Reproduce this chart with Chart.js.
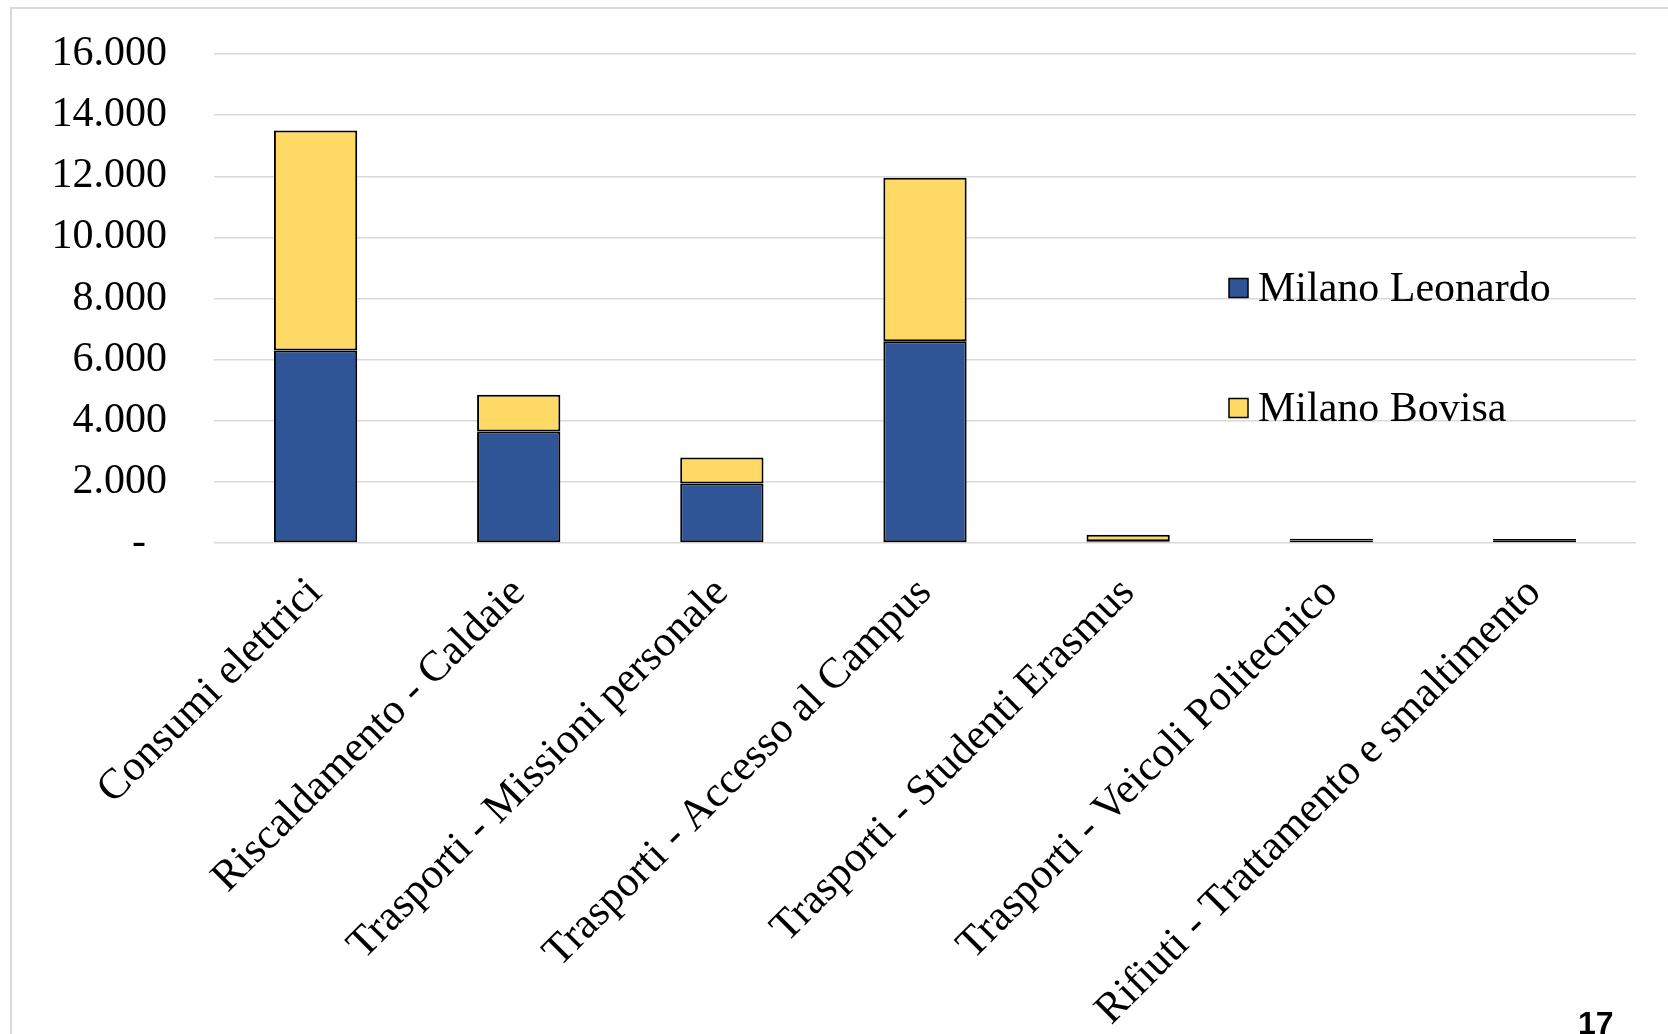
<!DOCTYPE html>
<html>
<head>
<meta charset="utf-8">
<script src="https://cdn.jsdelivr.net/npm/chart.js@4.4.1/dist/chart.umd.min.js"></script>
<style>
  html, body { margin: 0; padding: 0; background: #ffffff; }
  #wrap { width: 1668px; height: 1034px; position: relative; }
</style>
</head>
<body>
<div id="wrap"><canvas id="c" width="1668" height="1034"></canvas></div>
<script>
// Emissions by source, split between the two Milan campuses
const categories = [
  'Consumi elettrici',
  'Riscaldamento - Caldaie',
  'Trasporti - Missioni personale',
  'Trasporti - Accesso al Campus',
  'Trasporti - Studenti Erasmus',
  'Trasporti - Veicoli Politecnico',
  'Rifiuti - Trattamento e smaltimento'
];
const seriesNames = ['Milano Leonardo', 'Milano Bovisa'];
const leonardo = [6300, 3650, 1950, 6600, 60, 80, 70];
const bovisa   = [7200, 1200, 850, 5350, 210, 60, 60];
const yTicks   = [0, 2000, 4000, 6000, 8000, 10000, 12000, 14000, 16000];

const BLUE = '#2F5597';
const YELLOW = '#FFD966';
const SERIF = '"Liberation Serif", "Times New Roman", serif';

function fmtThousands(v) {
  if (v === 0) return '-  ';
  return String(v).replace(/\B(?=(\d{3})+(?!\d))/g, '.');
}

// Frame around the slide area and page number
const framePlugin = {
  id: 'frame',
  beforeDraw(chart) {
    const ctx = chart.ctx;
    ctx.save();
    ctx.fillStyle = '#ffffff';
    ctx.fillRect(0, 0, chart.width, chart.height);
    ctx.strokeStyle = '#d9d9d9';
    ctx.lineWidth = 2;
    ctx.beginPath();
    ctx.moveTo(11, chart.height);
    ctx.lineTo(11, 8);
    ctx.lineTo(chart.width, 8);
    ctx.stroke();
    ctx.restore();
  },
  afterDraw(chart) {
    const ctx = chart.ctx;
    ctx.save();
    ctx.fillStyle = '#000000';
    ctx.font = 'bold 32px "Liberation Sans", Arial, sans-serif';
    ctx.textAlign = 'left';
    ctx.textBaseline = 'alphabetic';
    ctx.fillText('17', 1578, 1034);
    ctx.restore();
  }
};

// Vertical legend placed inside the plot, right side
const sideLegend = {
  id: 'sideLegend',
  afterDraw(chart) {
    const ctx = chart.ctx;
    const items = [
      { ds: chart.data.datasets[0], cy: 288 },
      { ds: chart.data.datasets[1], cy: 408 }
    ];
    ctx.save();
    ctx.font = '42px ' + SERIF;
    ctx.textBaseline = 'middle';
    ctx.textAlign = 'left';
    items.forEach(it => {
      const box = 19;
      ctx.fillStyle = it.ds.backgroundColor;
      ctx.fillRect(1229, it.cy - box / 2, box, box);
      ctx.strokeStyle = '#000000';
      ctx.lineWidth = 1.5;
      ctx.strokeRect(1229, it.cy - box / 2, box, box);
      ctx.fillStyle = '#000000';
      ctx.fillText(it.ds.label, 1258, it.cy + 2);
    });
    ctx.restore();
  }
};

new Chart(document.getElementById('c'), {
  type: 'bar',
  data: {
    labels: categories,
    datasets: [
      {
        label: seriesNames[0],
        data: leonardo,
        backgroundColor: BLUE,
        borderColor: '#000000',
        borderWidth: 2,
        borderSkipped: false
      },
      {
        label: seriesNames[1],
        data: bovisa,
        backgroundColor: YELLOW,
        borderColor: '#000000',
        borderWidth: 2,
        borderSkipped: false
      }
    ]
  },
  options: {
    responsive: false,
    animation: false,
    devicePixelRatio: 1,
    layout: { padding: { top: 54, right: 32, left: 0, bottom: 0 } },
    plugins: {
      legend: { display: false },
      tooltip: { enabled: false }
    },
    datasets: {
      bar: { barPercentage: 0.41, categoryPercentage: 1.0 }
    },
    scales: {
      x: {
        stacked: true,
        grid: { display: false, drawTicks: false },
        border: { display: false },
        ticks: {
          autoSkip: false,
          minRotation: 45,
          maxRotation: 45,
          padding: 25,
          color: '#000000',
          font: { family: SERIF, size: 43 }
        },
        afterFit(scale) { scale.height = 491; }
      },
      y: {
        stacked: true,
        min: 0,
        max: 16000,
        afterBuildTicks(scale) {
          scale.ticks = yTicks.map(v => ({ value: v }));
        },
        grid: {
          color: '#d9d9d9',
          lineWidth: 1.5,
          drawTicks: false
        },
        border: { display: false },
        ticks: {
          padding: 47,
          color: '#000000',
          font: { family: SERIF, size: 42 },
          callback: (v) => fmtThousands(v)
        },
        afterFit(scale) {
          scale.width = 214;
          scale.paddingTop = 0;
          scale.paddingBottom = 0;
        }
      }
    }
  },
  plugins: [framePlugin, sideLegend]
});
</script>
</body>
</html>
